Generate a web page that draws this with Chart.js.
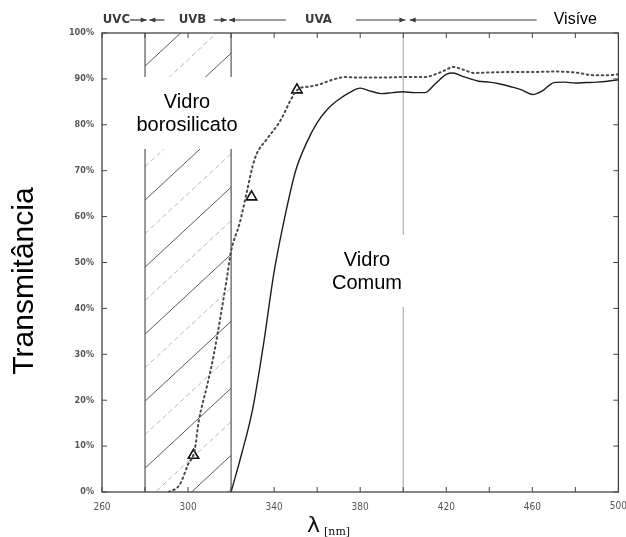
<!DOCTYPE html>
<html>
<head>
<meta charset="utf-8">
<script src="https://cdn.jsdelivr.net/npm/chart.js@4.4.1/dist/chart.umd.min.js"></script>
<style>
  html, body { margin: 0; padding: 0; background: #fff; }
  canvas { display: block; }
</style>
</head>
<body>
<canvas id="c" width="626" height="537"></canvas>
<script>
// ---- data ----
const comumWavelength = [320, 325, 330, 335, 340, 345, 350, 355, 360, 365, 370, 375, 380, 385, 390, 395, 400, 405, 410, 415, 420, 423, 428, 435, 440, 445, 450, 455, 460, 465, 470, 475, 480, 485, 490, 495, 500];
const comumTransmittance = [0, 8.5, 18, 32, 48, 60, 70, 76, 80.5, 83.5, 85.5, 87, 88, 87.3, 86.8, 87, 87.2, 87, 87, 89, 91, 91.3, 90.5, 89.5, 89.3, 88.9, 88.3, 87.6, 86.6, 87.5, 89.2, 89.3, 89.1, 89.2, 89.3, 89.5, 89.8];
const boroWavelength = [291, 296, 300, 303, 305, 309, 312, 315, 318, 320, 324, 327.5, 330, 332, 336, 343, 349, 352, 356, 361, 367, 373, 380, 390, 400, 410, 416, 420, 423, 428, 433, 440, 450, 460, 470, 480, 489, 495, 500];
const boroTransmittance = [0, 1.5, 6, 9, 15.5, 23.5, 30, 38, 46.5, 52.5, 58.6, 65.8, 71, 73.8, 76.5, 81, 86.5, 88, 88.3, 88.8, 89.8, 90.4, 90.3, 90.3, 90.4, 90.4, 91.2, 92, 92.6, 92, 91.3, 91.4, 91.5, 91.5, 91.6, 91.4, 90.8, 90.8, 91];
const markerWavelength = [302.5, 329.5, 350.6];
const markerTransmittance = [8, 64.3, 87.6];

const xTicksLabelled = [260, 300, 340, 380, 420, 460, 500];
const yTicks = [0, 10, 20, 30, 40, 50, 60, 70, 80, 90, 100];

const bandBoundaries = [280, 320];   // hatched band (UVB)
const visibleBoundary = 400;

const bandNames = ['UVC', 'UVB', 'UVA'];
const bandNameAt = [266.7, 302, 360.6];
// arrows: [tail nm, head nm]
const bandArrows = [[273, 280.8], [289, 282], [312, 318], [345.5, 319], [378, 401], [462, 403]];
const visibleLabel = 'Visíve';
const visibleLabelAt = 480;

const labelBoro = ['Vidro', 'borosilicato'];
const labelComum = ['Vidro', 'Comum'];
const yTitle = 'Transmitância';

const X_MAX = 500;
const tickFont = '"Liberation Sans Narrow", "DejaVu Sans Condensed", sans-serif';
const toXY = (xs, ys) => xs.map((v, i) => ({ x: v, y: ys[i] }));

const decor = {
  id: 'decor',
  beforeDatasetsDraw(chart) {
    const { ctx, chartArea: a, scales: { x, y } } = chart;
    const x0 = x.getPixelForValue(bandBoundaries[0]);
    const x1 = x.getPixelForValue(bandBoundaries[1]);
    ctx.save();
    ctx.beginPath();
    ctx.rect(x0, a.top, x1 - x0, a.bottom - a.top);
    ctx.clip();
    for (let k = -4; k < 16; k++) {
      const b = 5.2 + 7.3 * k;
      ctx.beginPath();
      ctx.moveTo(x0, y.getPixelForValue(b));
      ctx.lineTo(x1, y.getPixelForValue(b + 17.4));
      const light = Math.abs(k) % 2 === 1;
      ctx.strokeStyle = light ? '#b8b8b8' : '#5a5a5a';
      ctx.setLineDash(light ? [5, 3] : []);
      ctx.lineWidth = 1;
      ctx.stroke();
    }
    ctx.restore();
    ctx.save();
    ctx.strokeStyle = '#555';
    ctx.lineWidth = 1.2;
    [x0, x1].forEach(px => {
      ctx.beginPath(); ctx.moveTo(px, a.top); ctx.lineTo(px, a.bottom); ctx.stroke();
    });
    const xv = x.getPixelForValue(visibleBoundary);
    ctx.strokeStyle = '#a0a0a0';
    ctx.lineWidth = 1;
    ctx.beginPath(); ctx.moveTo(xv, a.top); ctx.lineTo(xv, a.bottom); ctx.stroke();
    ctx.restore();
  },
  afterDatasetsDraw(chart) {
    const { ctx, chartArea: a, scales: { x, y } } = chart;
    ctx.save();
    ctx.strokeStyle = '#444';
    ctx.lineWidth = 1.3;
    ctx.strokeRect(a.left, a.top, a.right - a.left, a.bottom - a.top);
    ctx.lineWidth = 1;
    for (let v = 260; v <= 500; v += 20) {
      const px = x.getPixelForValue(v);
      ctx.beginPath();
      ctx.moveTo(px, a.bottom); ctx.lineTo(px, a.bottom - 5);
      ctx.moveTo(px, a.top); ctx.lineTo(px, a.top + 5);
      ctx.stroke();
    }
    yTicks.forEach(v => {
      const py = y.getPixelForValue(v);
      ctx.beginPath();
      ctx.moveTo(a.left, py); ctx.lineTo(a.left + 5, py);
      ctx.moveTo(a.right, py); ctx.lineTo(a.right - 5, py);
      ctx.stroke();
    });
    // last x label (drawn here so it may run off the canvas edge, as in the reference)
    ctx.fillStyle = '#555';
    ctx.font = '10px ' + tickFont;
    ctx.textAlign = 'center';
    ctx.textBaseline = 'top';
    ctx.fillText(String(X_MAX), x.getPixelForValue(X_MAX), a.bottom + 9);

    ctx.fillStyle = '#fff';
    ctx.fillRect(126, 77, 120, 72);
    ctx.fillRect(300, 235, 112, 72);
    ctx.fillStyle = '#000';
    ctx.font = '20px "Liberation Sans", Arial, sans-serif';
    ctx.textBaseline = 'middle';
    ctx.fillText(labelBoro[0], 187, 102);
    ctx.fillText(labelBoro[1], 187, 125);
    ctx.fillText(labelComum[0], 367, 260);
    ctx.fillText(labelComum[1], 367, 283);

    ctx.fillStyle = '#3a3a3a';
    ctx.font = 'bold 13px "Liberation Sans Narrow", "DejaVu Sans Condensed", "Arial Narrow", sans-serif';
    bandNames.forEach((n, i) => ctx.fillText(n, x.getPixelForValue(bandNameAt[i]), 20));
    ctx.strokeStyle = '#3a3a3a';
    ctx.lineWidth = 1.2;
    bandArrows.forEach(([t, h]) => {
      const pt = x.getPixelForValue(t), ph = x.getPixelForValue(h);
      const dir = ph > pt ? 1 : -1;
      ctx.beginPath(); ctx.moveTo(pt, 20); ctx.lineTo(ph, 20); ctx.stroke();
      ctx.beginPath();
      ctx.moveTo(ph, 20);
      ctx.lineTo(ph - dir * 6, 17.5);
      ctx.lineTo(ph - dir * 6, 22.5);
      ctx.closePath();
      ctx.fillStyle = '#3a3a3a';
      ctx.fill();
    });
    ctx.fillStyle = '#000';
    ctx.font = '16px "Liberation Sans", Arial, sans-serif';
    ctx.fillText(visibleLabel, x.getPixelForValue(visibleLabelAt), 20);

    ctx.save();
    ctx.translate(25, 281);
    ctx.rotate(-Math.PI / 2);
    ctx.font = '30px "Liberation Sans", Arial, sans-serif';
    ctx.fillStyle = '#000';
    ctx.fillText(yTitle, 0, 0);
    ctx.restore();

    ctx.textAlign = 'left';
    ctx.fillStyle = '#111';
    ctx.font = '22px "DejaVu Sans", sans-serif';
    ctx.fillText('λ', 307, 526);
    ctx.font = '11px "DejaVu Serif", "Liberation Serif", serif';
    ctx.fillText('[nm]', 324, 532);
    ctx.restore();
  }
};

new Chart(document.getElementById('c'), {
  type: 'line',
  data: {
    datasets: [
      {
        label: 'Vidro Comum',
        data: toXY(comumWavelength, comumTransmittance),
        borderColor: '#1e1e1e',
        borderWidth: 1.4,
        pointRadius: 0,
        tension: 0.35,
        cubicInterpolationMode: 'monotone',
        fill: false
      },
      {
        label: 'Vidro borosilicato',
        data: toXY(boroWavelength, boroTransmittance),
        borderColor: '#4a4a4a',
        borderWidth: 2,
        borderDash: [1.5, 3.5],
        borderCapStyle: 'round',
        pointRadius: 0,
        tension: 0.35,
        cubicInterpolationMode: 'monotone',
        fill: false
      },
      {
        label: 'marcadores',
        data: toXY(markerWavelength, markerTransmittance),
        showLine: false,
        pointStyle: 'triangle',
        pointRadius: 6,
        pointBorderWidth: 1.6,
        pointBorderColor: '#111',
        pointBackgroundColor: 'rgba(255,255,255,0)'
      }
    ]
  },
  options: {
    responsive: false,
    animation: false,
    events: [],
    layout: { padding: { top: 33, right: 5, left: 0, bottom: 0 } },
    plugins: { legend: { display: false }, tooltip: { enabled: false } },
    scales: {
      x: {
        type: 'linear',
        min: 260, max: X_MAX,
        afterFit: s => {
          s.height = 45;
          s.paddingRight = 0;
          if (s._margins) { s._margins.right = 0; }
        },
        grid: { display: false, drawTicks: false },
        border: { display: false },
        ticks: {
          stepSize: 20,
          autoSkip: false,
          maxRotation: 0,
          padding: 9,
          color: '#555',
          font: { size: 10, family: tickFont },
          callback: v => (xTicksLabelled.includes(v) && v !== X_MAX) ? String(v) : ''
        }
      },
      y: {
        min: 0, max: 100,
        afterFit: s => { s.width = 102; },
        grid: { display: false, drawTicks: false },
        border: { display: false },
        ticks: {
          stepSize: 10,
          padding: 8,
          color: '#555',
          font: { size: 9, weight: 'bold', family: tickFont },
          callback: v => v + '%'
        }
      }
    }
  },
  plugins: [decor]
});
</script>
</body>
</html>
